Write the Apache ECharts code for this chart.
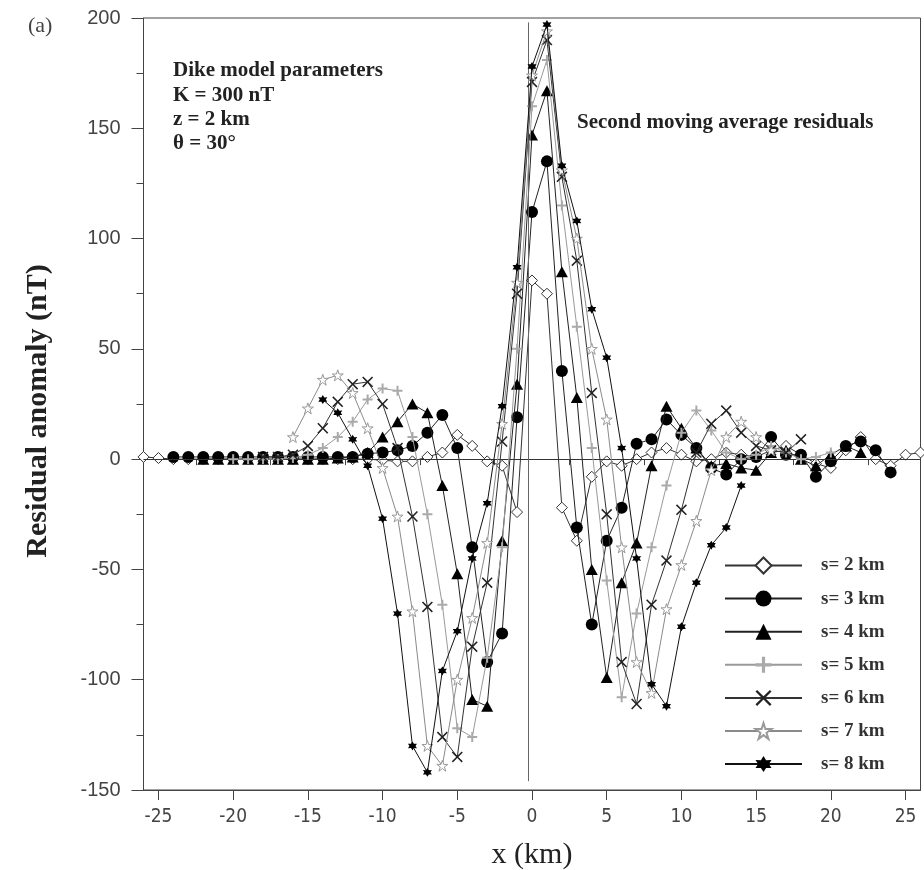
<!DOCTYPE html>
<html><head><meta charset="utf-8">
<script src="https://cdn.jsdelivr.net/npm/echarts@6/dist/echarts.min.js"></script>
<style>html,body{margin:0;padding:0;background:#fff}#c{width:924px;height:870px}</style>
</head><body><div id="c"></div>
<script>
// ---- data (x starts and values, 1 km spacing) ----
const seriesNames = ['s= 2 km','s= 3 km','s= 4 km','s= 5 km','s= 6 km','s= 7 km','s= 8 km'];
const startX = [-26, -24, -22, -20, -18, -16, -14];
const s2 = [1,0.5,0,0,0,0,0,0,0,0,0,0,0,0,0,0,-0.5,-1,-1,1,3,11,6,-1,-3,-24,81,75,-22,-37,-8,-1,-3,0,3,5,2,-1,0,3,2,1,4,6,2,-2,-4,4,10,0,-3,2,3];
const s3 = [1,1,1,1,1,1,1,1,1,1,1,1,1,2.5,3,4,6,12,20,5,-40,-92,-79,19,112,135,40,-31,-75,-37,-22,7,9,18,11,5,-4,-7,0,1,10,2,2,-8,-1,6,8,4,-6];
const s4 = [0,0,0,0,0,0,0,0,0,0.5,1,3,10,17,25,21,-12,-52,-109,-112,-37,34,147,167,85,28,-50,-99,-56,-38,-3,24,14,5,-3,-2,-4,-5,3,4,0,-3,2,6,3];
const s5 = [0,0,0,0,0.5,2,5,10,17,27,32,31,10,-25,-66,-122,-126,-90,-40,50,160,181,115,60,5,-55,-108,-70,-40,-12,12,22,13,3,0,2,6,3,0,1,3];
const s6 = [1,1,2,6,14,26,34,35,25,5,-26,-67,-126,-135,-85,-56,8,75,171,190,128,90,30,-25,-92,-111,-66,-46,-23,3,16,22,12,6,4,3,9];
const s7 = [10,23,36,38,30,14,-4,-26,-69,-130,-139,-100,-72,-38,16,80,174,194,131,100,50,18,-40,-92,-106,-68,-48,-28,-5,10,17,10,4];
const s8 = [27,21,9,-3,-27,-70,-130,-142,-96,-78,-45,-20,24,87,178,197,133,108,68,46,5,-45,-102,-112,-76,-56,-39,-31,-12];
const allValues = [s2, s3, s4, s5, s6, s7, s8];
const xTickValues = [-25,-20,-15,-10,-5,0,5,10,15,20,25];
const xMinorValues = [-22.5,-17.5,-12.5,-7.5,-2.5,2.5,7.5,12.5,17.5,22.5];
const refLineX = -0.27;

// ---- styles ----
const symbols = [
  'diamond','circle','triangle',
  'path://M4,0H6V4H10V6H6V10H4V6H0V4H4Z',
  'path://M0,1L1,0L5,4L9,0L10,1L6,5L10,9L9,10L5,6L1,10L0,9L4,5Z',
  'path://M5,0L6.2,3.6L10,3.6L6.9,5.8L8.1,9.5L5,7.2L1.9,9.5L3.1,5.8L0,3.6L3.8,3.6Z',
  'path://M5,0L6.4,2.6L9.3,2.5L7.9,5L9.3,7.5L6.4,7.4L5,10L3.6,7.4L0.7,7.5L2.1,5L0.7,2.5L3.6,2.6Z'
];
const symSizes = [[11,11],12,[12,11],10,11,11,9];
const lineColors = ['#333','#222','#222','#9a9a9a','#333','#8a8a8a','#111'];
const fillColors = ['#fff','#000','#000','#aaa','#222','#fff','#000'];
const borderColors = ['#333','#000','#000','#aaa','#222','#999','#000'];

const series = allValues.map((vals, i) => ({
  name: seriesNames[i],
  type: 'line',
  clip: false,
  z: 2 + i,
  data: vals.map((v, k) => [startX[i] + k, v]),
  symbol: symbols[i],
  symbolSize: symSizes[i],
  showAllSymbol: true,
  lineStyle: {color: lineColors[i], width: 1},
  itemStyle: {color: fillColors[i], borderColor: borderColors[i], borderWidth: (i===0||i===5)?1:0},
  emphasis: {disabled: true},
  animation: false
}));
series[0].markLine = {
  silent: true, symbol: 'none', animation: false,
  label: {show: false},
  lineStyle: {color: '#333', width: 1, type: 'solid'},
  data: [
    [{coord: [-26, 0]}, {coord: [26, 0]}],
    [{coord: [refLineX, -146], lineStyle:{color:'#666'}}, {coord: [refLineX, 198]}]
  ]
};

const chart = echarts.init(document.getElementById('c'), null, {renderer: 'canvas'});
const serif = "'Liberation Serif', 'Times New Roman', serif";
chart.setOption({
  backgroundColor: '#fff',
  animation: false,
  grid: {left: 143.5, right: 3.5, top: 18, bottom: 80, show: true, borderColor: '#444', borderWidth: 1, backgroundColor: 'transparent'},
  xAxis: [{
    type: 'value', min: -26, max: 26,
    axisLine: {show: true, onZero: false, lineStyle: {color: '#444'}},
    axisTick: {show: true, customValues: xTickValues, length: 10, lineStyle: {color: '#444'}},
    axisLabel: {show: true, customValues: xTickValues, margin: 18, fontSize: 19, color: '#444',
      fontFamily: "'Liberation Sans Narrow','DejaVu Sans Condensed',sans-serif"},
    splitLine: {show: false}
  }, {
    type: 'value', min: -26, max: 26, position: 'bottom',
    axisLine: {show: false},
    axisTick: {show: true, customValues: xMinorValues, length: 6, lineStyle: {color: '#444'}},
    axisLabel: {show: false}, splitLine: {show: false}
  }],
  yAxis: {
    type: 'value', min: -150, max: 200, interval: 50,
    axisLine: {show: true, onZero: false, lineStyle: {color: '#444'}},
    axisTick: {show: true, length: 12, lineStyle: {color: '#444'}},
    minorTick: {show: true, splitNumber: 2, length: 7, lineStyle: {color: '#444'}},
    axisLabel: {margin: 23, fontSize: 20, color: '#444', fontFamily: "'Liberation Sans','Arial',sans-serif"},
    splitLine: {show: false}
  },
  legend: {
    orient: 'vertical', left: 719, top: 551,
    itemWidth: 77, itemHeight: 20, itemGap: 14.1,
    selectedMode: false,
    textStyle: {fontFamily: serif, fontWeight: 'bold', fontSize: 19, color: '#333', padding: [0,0,0,14]},
    data: seriesNames
  },
  graphic: [
    {type: 'text', x: 28, y: 26, style: {text: '(a)', font: "22px " + serif, fill: '#444', verticalAlign: 'middle'}},
    {type: 'text', x: 173, y: 71, style: {text: 'Dike model parameters', font: "bold 21px " + serif, fill: '#222', verticalAlign: 'middle'}},
    {type: 'text', x: 173, y: 96, style: {text: 'K = 300 nT', font: "bold 21px " + serif, fill: '#222', verticalAlign: 'middle'}},
    {type: 'text', x: 173, y: 120, style: {text: 'z = 2 km', font: "bold 21px " + serif, fill: '#222', verticalAlign: 'middle'}},
    {type: 'text', x: 173, y: 144, style: {text: 'θ = 30°', font: "bold 21px " + serif, fill: '#222', verticalAlign: 'middle'}},
    {type: 'text', x: 577, y: 123, style: {text: 'Second moving average residuals', font: "bold 21px " + serif, fill: '#222', verticalAlign: 'middle'}},
    {type: 'text', x: 38, y: 411, rotation: Math.PI/2, style: {text: 'Residual anomaly (nT)', font: "bold 30px " + serif, fill: '#222', align: 'center', verticalAlign: 'middle'}},
    {type: 'text', x: 532, y: 855, style: {text: 'x (km)', font: "30px " + serif, fill: '#222', align: 'center', verticalAlign: 'middle'}}
  ],
  series: series
});
</script></body></html>
